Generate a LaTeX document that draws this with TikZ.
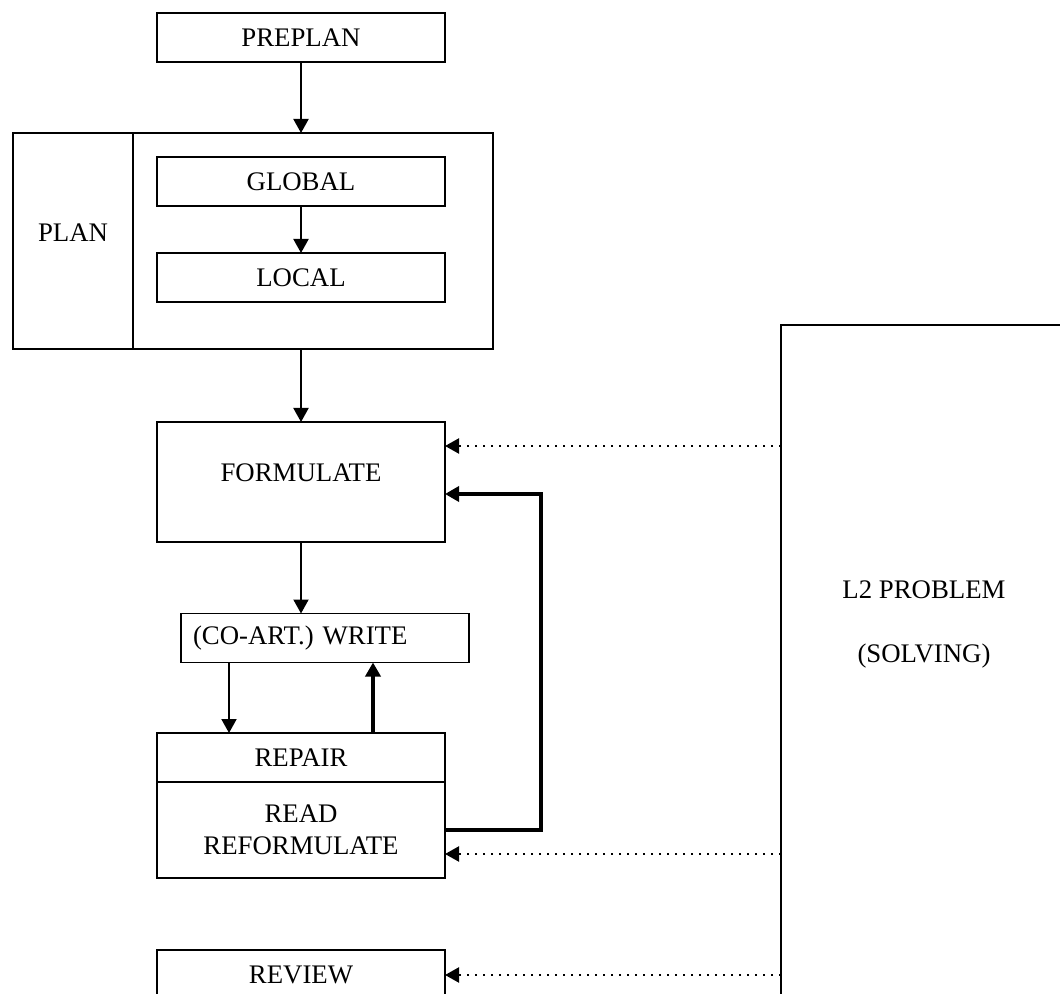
\documentclass[tikz,border=0pt]{standalone}
\usepackage{fontspec}
\setmainfont{Liberation Serif}
\usetikzlibrary{calc}
\usetikzlibrary{positioning}
\usetikzlibrary{arrows.meta}

\tikzset{
  stagebox/.style={draw,rectangle,line width=0.9pt,minimum width=144pt,minimum height=24.5pt,inner sep=0pt,outer sep=0pt,font=\fontsize{13.4}{16}\selectfont},
  plaintext/.style={inner sep=0pt,font=\fontsize{13.4}{16}\selectfont},
  flow/.style={line width=1pt,->},
  backflow/.style={line width=1.7pt,->},
  probe/.style={line width=1.1pt,dash pattern=on 1.1pt off 2.9pt,->},
  >={Triangle[length=7pt,width=7.5pt]}
}

\begin{document}
\begin{tikzpicture}[x=1pt,y=1pt]
\useasboundingbox (0,0) rectangle (530,-497);
\clip (0,0) rectangle (530,-497);

\node[stagebox](preplan) at (150.5,-18.75){PREPLAN};
\node[stagebox,minimum width=240pt,minimum height=108pt](plan) at (126.5,-120.5){};
\node[plaintext](plantext) at (36.5,-116.5){PLAN};
\node[stagebox](global) at (150.5,-90.75){GLOBAL};
\node[stagebox](local)[below=23.5pt of global]{LOCAL};
\node[stagebox,minimum height=60pt,text depth=9pt](formulate)[below=60pt of local]{FORMULATE};
\node[stagebox,text width=132pt,align=left,inner xsep=6pt](write) at (162.5,-319){(CO-ART.) WRITE};
\node[stagebox](repair)[below=95.5pt of formulate]{REPAIR};
\node[stagebox,minimum height=48pt,align=center](read)[below=0pt of repair]{READ\\REFORMULATE};
\node[stagebox,minimum height=25pt](review)[below=36pt of read]{REVIEW};
\node[draw,rectangle,line width=0.9pt,minimum width=143pt,minimum height=340pt,outer sep=0pt](l2) at (462,-332.5){};
\node[plaintext,align=center](l2text) at (462,-312){L2 PROBLEM\\[16pt](SOLVING)};

\draw[line width=0.9pt]($(plan.north west)+(60pt,0)$)--($(plan.south west)+(60pt,0)$);

\draw[flow](preplan.south)--(preplan.south |- plan.north);
\draw[flow](global)--(local);
\draw[flow](formulate.north |- plan.south)--(formulate.north);
\draw[flow](formulate.south)--(formulate.south |- write.north);

\coordinate (wl) at ([xshift=-48pt]write.south);
\coordinate (wr) at ([xshift=24pt]write.south);
\draw[flow](wl)--(wl |- repair.north);
\draw[backflow](wr |- repair.north)--(wr);
\draw[backflow](read.east)--++(48pt,0)|-([yshift=-6pt]formulate.east);

\coordinate (fin) at ([yshift=18pt]formulate.east);
\coordinate (rin) at ([yshift=-12pt]read.east);
\draw[probe](l2.west |- fin)--(fin);
\draw[probe](l2.west |- rin)--(rin);
\draw[probe](l2.west |- review.east)--(review.east);

\end{tikzpicture}
\end{document}
